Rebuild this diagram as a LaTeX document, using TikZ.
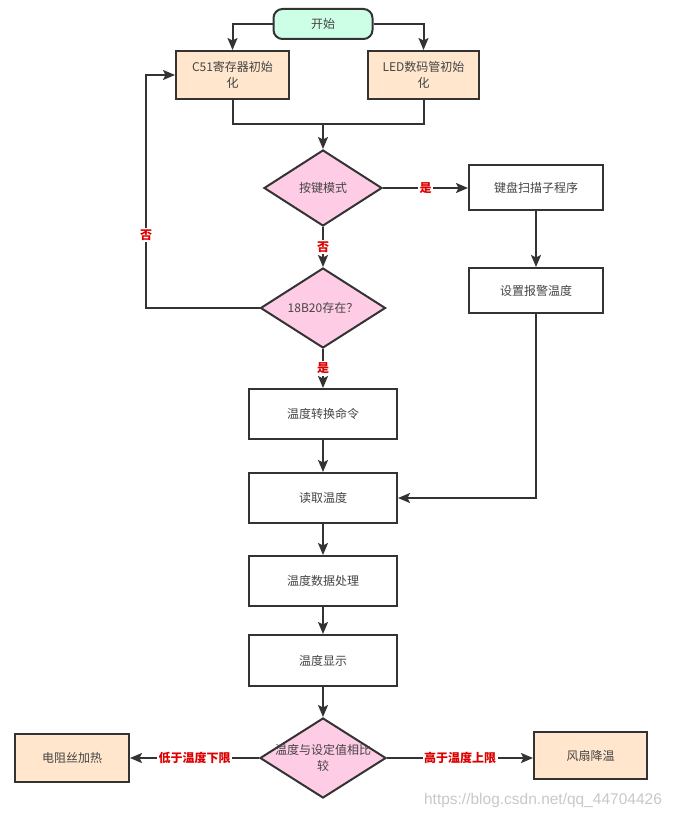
\documentclass[tikz,border=0pt]{standalone}
\usepackage{fontspec}
\setmainfont{Noto Sans CJK SC}
\newfontfamily\wmfont{Liberation Sans}
\usetikzlibrary{shapes.geometric,arrows.meta}
\definecolor{lc}{HTML}{333333}
\definecolor{tc}{HTML}{444444}
\definecolor{startfill}{HTML}{CCFFE6}
\definecolor{orfill}{HTML}{FFE6CC}
\definecolor{pkfill}{HTML}{FFCCE6}
\definecolor{labred}{HTML}{DD0000}
\definecolor{wmgray}{HTML}{C8C8C8}
\begin{document}
\begin{tikzpicture}[x=1pt,y=-1pt,
  every node/.style={font=\fontsize{12}{16}\selectfont, text=tc},
  basebox/.style={draw=lc, line width=2, inner sep=0, align=center},
  procbox/.style={basebox, fill=white, minimum width=148, minimum height=50},
  orbox/.style={basebox, fill=orfill, minimum width=113, minimum height=48},
  startbox/.style={basebox, fill=startfill, rounded corners=9, minimum width=99, minimum height=30},
  decision/.style={basebox, shape=diamond, fill=pkfill, minimum width=118, minimum height=76},
  conn/.style={draw=lc, line width=2},
  arr/.style={conn, -{Stealth[length=12pt,width=10pt,inset=2.5pt]}},
  lab/.style={fill=white, inner sep=1.5, text=labred, font=\bfseries\fontsize{12}{14}\selectfont}
]
\useasboundingbox (0,0) rectangle (674,818);

% nodes
\node[startbox] (start) at (323,24) {开始};
\node[orbox] (c51) at (232.5,75) {C51寄存器初始\\化};
\node[orbox, minimum width=111] (led) at (423.5,75) {LED数码管初始\\化};
\node[decision] (d1) at (323,188) {};
\node at (d1.center) {按键模式};
\node[procbox, minimum width=134, minimum height=45] (kb) at (536,188) {键盘扫描子程序};
\node[decision, minimum width=125, minimum height=80] (d2) at (323,308) {};
\node at (d2.center) {18B20存在？};
\node[procbox, minimum width=134, minimum height=45] (alarm) at (536,290.5) {设置报警温度};
\node[procbox] (conv) at (323,414) {温度转换命令};
\node[procbox] (read) at (323,498) {读取温度};
\node[procbox] (proc) at (323,581) {温度数据处理};
\node[procbox, minimum height=51] (disp) at (323,660.5) {温度显示};
\node[decision, minimum width=126, minimum height=80] (d3) at (323,758) {};
\node[align=center] at (d3.center) {温度与设定值相比\\较};
\node[orbox, minimum width=114] (heat) at (72,758) {电阻丝加热};
\node[orbox, minimum width=113, minimum height=47] (fan) at (590.5,755.5) {风扇降温};

\coordinate (merge) at (323,124);
\coordinate (back) at (146,308);

% connectors
\draw[arr] (start.west) -| (c51.north);
\draw[arr] (start.east) -| (led.north);
\draw[conn] (c51.south) |- (merge) -| (led.south);
\draw[arr] (merge) -- (d1.north);
\draw[arr] (d1.east) -- node[lab]{是} (kb.west);
\draw[arr] (d1.south) -- node[lab]{否} (d2.north);
\draw[arr] (d2.west) -- (back) |- (c51.west);
\node[lab] (no2) at (146,235) {否};
\draw[arr] (kb.south) -- (alarm.north);
\draw[arr] (d2.south) -- node[lab]{是} (conv.north);
\draw[arr] (conv.south) -- (read.north);
\draw[arr] (alarm.south) |- (read.east);
\draw[arr] (read.south) -- (proc.north);
\draw[arr] (proc.south) -- (disp.north);
\draw[arr] (disp.south) -- (d3.north);
\draw[arr] (d3.west) -- node[lab]{低于温度下限} (heat.east);
\draw[arr] (d3.east) -- node[lab]{高于温度上限} (d3.east -| fan.west);

\node[anchor=center, text=wmgray, font=\wmfont\fontsize{15.5}{18}\selectfont] (wm) at (543,800) {https://blog.csdn.net/qq\_44704426};
\end{tikzpicture}
\end{document}
